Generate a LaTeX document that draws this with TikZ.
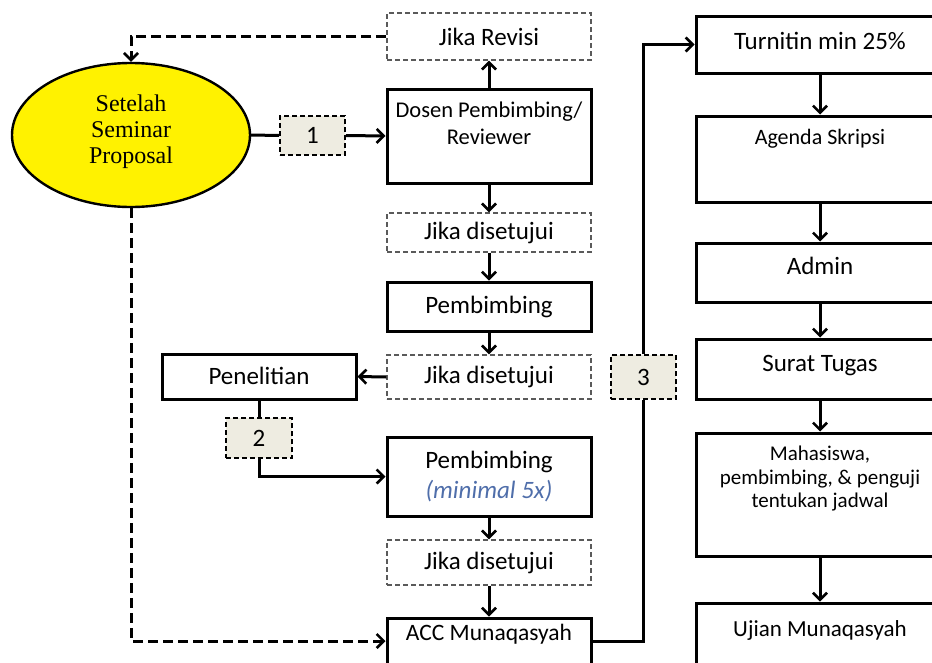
\documentclass[tikz,border=0pt]{standalone}
\usepackage{fontspec}
\setmainfont{Carlito}
\newfontfamily\serifellipse{Liberation Serif}
\usetikzlibrary{shapes.geometric, arrows.meta}
\definecolor{badgefill}{RGB}{238,236,225}
\definecolor{notecolor}{RGB}{79,110,170}
\definecolor{dashgray}{RGB}{90,90,90}

\begin{document}
\begin{tikzpicture}[x = 1pt, y = -1pt,
        box/.style = {draw, line width = 3pt, minimum width = 204pt, inner sep = 0pt},
        rbox/.style = {box, minimum width = 248pt},
        maybe/.style = {draw = dashgray, dash pattern = on 5pt off 3pt, line width = 1.4pt, minimum width = 204pt, inner sep = 0pt, font = \fontsize{25}{28}\selectfont},
        badge/.style = {draw, fill = badgefill, dash pattern = on 5pt off 3pt, line width = 1.8pt, minimum width = 65pt, inner sep = 0pt, font = \fontsize{25}{28}\selectfont},
        caption/.style = {inner sep = 0pt, align = center, font = \fontsize{25}{28}\selectfont},
        flow/.style = {line width = 3pt, -{Straight Barb[length = 7pt, width = 14pt, line width = 2.6pt]}},
        link/.style = {line width = 3pt},
        back/.style = {flow, dash pattern = on 10pt off 5pt}]
    \useasboundingbox (0, 0) rectangle (932, 662);
    \clip (0, 0) rectangle (932, 662);

    % start
    \node [ellipse, draw, line width = 2.4pt, fill = yellow, minimum width = 238pt, minimum height = 144pt] (seminar) at (131, 135) {};
    \node [caption, font = \serifellipse\fontsize{24}{26}\selectfont] (seminar-text) at ([yshift = 3pt] seminar.center)
        {Setelah\\Seminar\\Proposal};

    % middle column
    \node [maybe, minimum height = 47pt] (revisi) at (489, 36.5) {Jika Revisi};
    \node [box, minimum height = 94pt] (dosen) at (489, 136) {};
    \node [caption, font = \fontsize{22.5}{27}\selectfont] (dosen-text) at ([yshift = -36pt] dosen.north) {Dosen Pembimbing/\\Reviewer};
    \node [maybe, minimum height = 39pt] (setuju1) at (489, 232.5) {Jika disetujui};
    \node [box, minimum height = 49pt] (pembimbing1) at (489, 306.5) {};
    \node [caption] (pembimbing1-text) at (pembimbing1.center) {Pembimbing};
    \node [maybe, minimum height = 44pt] (setuju2) at (489, 377) {Jika disetujui};
    \node [box, minimum width = 194pt, minimum height = 45pt] (penelitian) at (259, 376.5) {};
    \node [caption] (penelitian-text) at ([yshift = 1pt] penelitian.center) {Penelitian};
    \node [box, minimum height = 79pt] (pembimbing2) at (489, 476.5) {};
    \node [caption, font = \fontsize{25}{30}\selectfont] (pembimbing2-text) at (pembimbing2.center)
        {Pembimbing\\{\color{notecolor}\itshape(minimal 5x)}};
    \node [maybe, minimum height = 45pt] (setuju3) at (489, 562.5) {Jika disetujui};
    \node [box, minimum height = 46pt] (acc) at (489, 641) {};
    \node [caption, font = \fontsize{23.5}{26}\selectfont] (acc-text) at ([yshift = -18pt] acc.north) {ACC Munaqasyah};

    % badges
    \node [badge, minimum height = 39pt] (b1) at (312.5, 135.5) {1};
    \node [badge, minimum width = 66pt, minimum height = 40pt] (b2) at (259, 438) {2};
    \node [badge, minimum height = 44pt] (b3) at (643.5, 377) {3};

    % right column
    \node [rbox, minimum height = 57pt] (turnitin) at (820, 44.5) {};
    \node [caption] (turnitin-text) at ([yshift = 4pt] turnitin.center) {Turnitin min 25\%};
    \node [rbox, minimum height = 86pt] (agenda) at (820, 159) {};
    \node [caption, font = \fontsize{22}{26}\selectfont] (agenda-text) at ([yshift = -24pt] agenda.north) {Agenda Skripsi};
    \node [rbox, minimum height = 59pt] (admin) at (820, 272.5) {};
    \node [caption] (admin-text) at ([yshift = 7pt] admin.center) {Admin};
    \node [rbox, minimum height = 60pt] (surat) at (820, 369) {};
    \node [caption] (surat-text) at ([yshift = 3pt] surat.center) {Surat Tugas};
    \node [rbox, minimum height = 123pt] (jadwal) at (820, 494.5) {};
    \node [caption, font = \fontsize{21}{23.5}\selectfont] (jadwal-text) at ([yshift = -47pt] jadwal.north)
        {Mahasiswa,\\pembimbing, \& penguji\\tentukan jadwal};
    \node [rbox, minimum height = 64pt] (ujian) at (820, 635) {};
    \node [caption, font = \fontsize{23}{26}\selectfont] (ujian-text) at ([yshift = -29pt] ujian.north) {Ujian Munaqasyah};

    % connectors
    \draw [back] (revisi.west) -- (seminar.north |- revisi.west) -- (seminar.north);
    \draw [link] (seminar.east) -- (b1.west);
    \draw [flow] (b1.east) -- (dosen.west);
    \draw [flow] (dosen.north) -- (revisi.south);
    \draw [flow] (dosen.south) -- (setuju1.north);
    \draw [flow] (setuju1.south) -- (pembimbing1.north);
    \draw [flow] (pembimbing1.south) -- (setuju2.north);
    \draw [flow] (setuju2.west) -- (penelitian.east);
    \draw [link] (penelitian.south) -- (b2.north);
    \draw [flow] (b2.south) |- (pembimbing2.west);
    \draw [flow] (pembimbing2.south) -- (setuju3.north);
    \draw [flow] (setuju3.south) -- (acc.north);
    \draw [back] (seminar.south) |- (acc.west);
    \draw [link] (acc.east) -| (b3.south);
    \draw [flow] (b3.north) |- (turnitin.west);
    \draw [flow] (turnitin.south) -- (agenda.north);
    \draw [flow] (agenda.south) -- (admin.north);
    \draw [flow] (admin.south) -- (surat.north);
    \draw [flow] (surat.south) -- (jadwal.north);
    \draw [flow] (jadwal.south) -- (ujian.north);
\end{tikzpicture}
\end{document}
